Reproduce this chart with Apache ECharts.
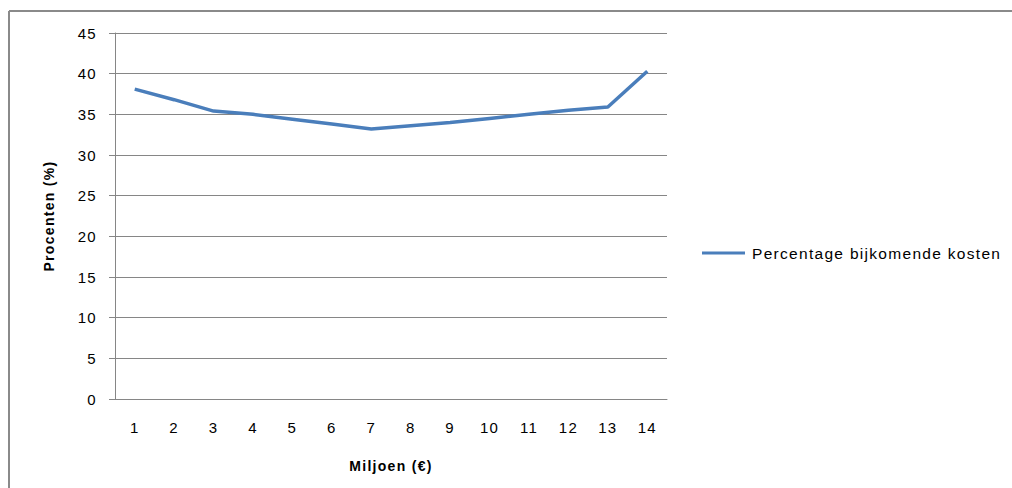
<!DOCTYPE html>
<html>
<head>
<meta charset="utf-8">
<script src="https://cdn.jsdelivr.net/npm/echarts@6/dist/echarts.min.js"></script>
<style>
  html, body { margin: 0; padding: 0; background: #ffffff; overflow: hidden; }
  #chart { width: 1012px; height: 488px; }
  /* slightly wider type spacing for all chart text */
  #chart svg text { letter-spacing: 1.3px; }
</style>
</head>
<body>
<div id="chart"></div>
<script>
// Kosten in miljoenen euro's en het percentage bijkomende kosten
const categories = ['1', '2', '3', '4', '5', '6', '7', '8', '9', '10', '11', '12', '13', '14'];
const percentages = [38.1, 36.8, 35.4, 35.0, 34.4, 33.8, 33.2, 33.6, 34.0, 34.5, 35.0, 35.5, 35.9, 40.3];
const seriesName = 'Percentage bijkomende kosten';

const font = 'Liberation Sans, Arial, sans-serif';
const gridColor = '#868686';
const frameColor = '#8a8a8a';

const chart = echarts.init(document.getElementById('chart'), null, { renderer: 'svg' });
chart.setOption({
  animation: false,
  backgroundColor: '#ffffff',
  textStyle: { fontFamily: font, color: '#000000' },
  graphic: [
    {
      type: 'line', silent: true,
      shape: { x1: 9, y1: 11, x2: 1012, y2: 11 },
      style: { stroke: frameColor, lineWidth: 2 }
    },
    {
      type: 'line', silent: true,
      shape: { x1: 9, y1: 11, x2: 9, y2: 488 },
      style: { stroke: frameColor, lineWidth: 2 }
    }
  ],
  grid: { left: 115, top: 33, right: 345, bottom: 89 },
  legend: {
    left: 702, top: 245,
    padding: 0,
    icon: 'rect',
    itemWidth: 43, itemHeight: 3,
    textStyle: { fontFamily: font, fontSize: 15.5, color: '#000000', padding: [0, 0, 0, 2] },
    data: [seriesName]
  },
  xAxis: {
    type: 'category',
    data: categories,
    boundaryGap: true,
    name: 'Miljoen (€)',
    nameLocation: 'middle',
    nameGap: 60,
    nameTextStyle: { fontFamily: font, fontSize: 14, fontWeight: 'bold', color: '#000000' },
    axisLine: { lineStyle: { color: gridColor, width: 1 } },
    axisTick: { show: false },
    axisLabel: { margin: 21, fontSize: 15, color: '#000000', fontFamily: font, interval: 0 }
  },
  yAxis: {
    type: 'value',
    min: 0, max: 45, interval: 5,
    name: 'Procenten (%)',
    nameLocation: 'middle',
    nameGap: 59,
    nameTextStyle: { fontFamily: font, fontSize: 14, fontWeight: 'bold', color: '#000000' },
    axisLine: { show: true, lineStyle: { color: gridColor, width: 1 } },
    axisTick: { show: true, length: 6, lineStyle: { color: gridColor } },
    axisLabel: { margin: 18, fontSize: 15, color: '#000000', fontFamily: font },
    splitLine: { lineStyle: { color: gridColor, width: 1 } }
  },
  series: [{
    name: seriesName,
    type: 'line',
    data: percentages,
    symbol: 'none',
    lineStyle: { color: '#4a7ebb', width: 3.5 },
    itemStyle: { color: '#4a7ebb' }
  }]
});
</script>
</body>
</html>
